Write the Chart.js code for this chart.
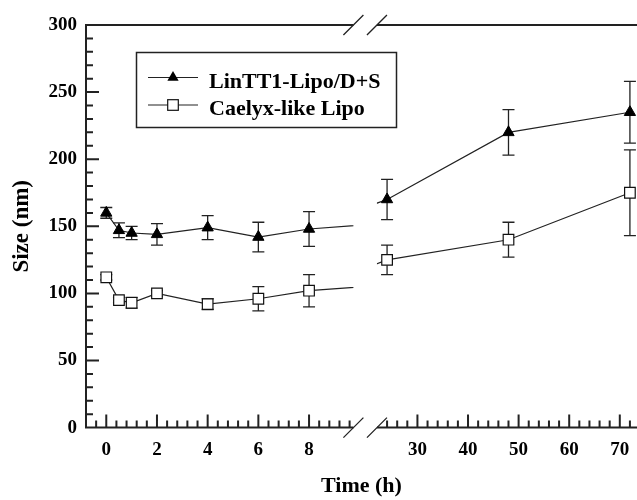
<!DOCTYPE html>
<html>
<head>
<meta charset="utf-8">
<script src="https://cdn.jsdelivr.net/npm/chart.js@4.4.1/dist/chart.umd.min.js"></script>
<style>
  html, body { margin: 0; padding: 0; background: #fff; }
  #wrap { width: 637px; height: 500px; }
</style>
</head>
<body>
<div id="wrap"><canvas id="sizeChart"></canvas></div>
<script>
// sampling times (h)
const time_h = [0, 0.5, 1, 2, 4, 6, 8, 24, 48, 72];
// LinTT1-Lipo/D+S, mean size and error (nm)
const lintt_size = [160, 147, 145, 144, 149, 142, 148, 170, 220, 235];
const lintt_err = [4, 5.5, 5, 8, 9, 11, 13, 15, 17, 23];
// Caelyx-like Lipo
const caelyx_size = [112, 95, 93, 100, 92, 96, 102, 125, 140, 175];
const caelyx_err = [2, 2, 4, 2, 4, 9, 12, 11, 13, 32];

const left_ticks = [0, 2, 4, 6, 8];
const right_ticks = [30, 40, 50, 60, 70];
const y_ticks = [0, 50, 100, 150, 200, 250, 300];

// the time axis is broken in two pieces (hours)
const LEFT = {min: -0.8, max: 10.2, end: 9.75};
const RIGHT = {min: 19.6, max: 73.4, start: 22};

Chart.defaults.font.family = '"Liberation Serif", "Times New Roman", serif';
Chart.defaults.color = '#000';

const LINE = '#222';

function pts(vals) {
    return time_h.map((t, i) => ({x: t, y: vals[i]}));
}

function seriesSets(label, vals, errs, style) {
    return ['xL', 'xR'].map(axis => Object.assign({
        label: label,
        data: pts(vals),
        errors: errs,
        xAxisID: axis,
        yAxisID: 'y',
        borderColor: LINE,
        borderWidth: 1.2,
        tension: 0,
        fill: false
    }, style));
}

const triStyle = {pointStyle: 'triangle', pointRadius: 6.5, pointBackgroundColor: '#000', pointBorderColor: '#000', pointBorderWidth: 1};
const sqStyle = {pointStyle: 'rect', pointRadius: 7.5, pointBackgroundColor: '#fff', pointBorderColor: '#111', pointBorderWidth: 1.2};

// clipping to each axis piece, error bars, frame with break marks, legend box
const brokenAxis = {
    id: 'brokenAxis',
    beforeDatasetDraw(chart, args) {
        const ds = chart.data.datasets[args.index];
        const a = chart.chartArea;
        const ctx = chart.ctx;
        const xs = chart.scales[ds.xAxisID];
        const ys = chart.scales.y;
        let x0, x1;
        if (ds.xAxisID === 'xL') {
            x0 = a.left - 10;
            x1 = chart.scales.xL.getPixelForValue(LEFT.end);
        } else {
            x0 = chart.scales.xR.getPixelForValue(RIGHT.start);
            x1 = a.right + 10;
        }
        ctx.save();
        ctx.beginPath();
        ctx.rect(x0, a.top - 10, x1 - x0, a.bottom - a.top + 20);
        ctx.clip();
        ctx.strokeStyle = LINE;
        ctx.lineWidth = 1.3;
        ds.data.forEach((p, i) => {
            const e = ds.errors[i];
            const x = xs.getPixelForValue(p.x);
            const yt = ys.getPixelForValue(p.y + e);
            const yb = ys.getPixelForValue(p.y - e);
            ctx.beginPath();
            ctx.moveTo(x, yt); ctx.lineTo(x, yb);
            ctx.moveTo(x - 6, yt); ctx.lineTo(x + 6, yt);
            ctx.moveTo(x - 6, yb); ctx.lineTo(x + 6, yb);
            ctx.stroke();
        });
    },
    afterDatasetDraw(chart) {
        chart.ctx.restore();
    },
    afterDraw(chart) {
        const {ctx, chartArea: a, scales: {xL, xR, y}} = chart;
        const bx = xL.getPixelForValue(LEFT.end);
        const rx = xR.getPixelForValue(RIGHT.start);
        ctx.save();
        ctx.strokeStyle = LINE;
        ctx.lineWidth = 2;
        ctx.beginPath();
        ctx.moveTo(a.left, a.top - 1); ctx.lineTo(a.left, a.bottom + 1);
        for (const yy of [a.top, a.bottom]) {
            ctx.moveTo(a.left, yy); ctx.lineTo(bx, yy);
            ctx.moveTo(rx, yy); ctx.lineTo(a.right, yy);
        }
        // y ticks, minor every 10
        for (let v = 10; v < 300; v += 10) {
            const py = y.getPixelForValue(v);
            ctx.moveTo(a.left, py);
            ctx.lineTo(a.left + (v % 50 === 0 ? 13 : 7), py);
        }
        // left piece ticks, minor every 0.4 h
        for (let k = -1; k * 0.4 <= LEFT.end; k++) {
            const px = xL.getPixelForValue(k * 0.4);
            ctx.moveTo(px, a.bottom);
            ctx.lineTo(px, a.bottom - (k % 5 === 0 ? 13 : 7));
        }
        // right piece ticks, minor every 2 h
        for (let v = 24; v <= RIGHT.max; v += 2) {
            const px = xR.getPixelForValue(v);
            ctx.moveTo(px, a.bottom);
            ctx.lineTo(px, a.bottom - (v % 10 === 0 ? 13 : 7));
        }
        ctx.stroke();

        // break marks
        ctx.lineWidth = 1.3;
        ctx.beginPath();
        for (const xx of [bx, rx]) {
            for (const yy of [a.top, a.bottom]) {
                ctx.moveTo(xx - 10, yy + 10);
                ctx.lineTo(xx + 10, yy - 10);
            }
        }
        ctx.stroke();

        // legend
        ctx.lineWidth = 1.5;
        ctx.strokeRect(136.5, 52.5, 260, 75);
        const rows = [
            {text: 'LinTT1-Lipo/D+S', y: 77.5, base: 88, tri: true},
            {text: 'Caelyx-like Lipo', y: 105, base: 115, tri: false}
        ];
        ctx.font = 'bold 22px "Liberation Serif", serif';
        ctx.textBaseline = 'alphabetic';
        ctx.textAlign = 'left';
        rows.forEach(r => {
            ctx.strokeStyle = LINE;
            ctx.lineWidth = 1.2;
            ctx.beginPath();
            ctx.moveTo(148, r.y); ctx.lineTo(198, r.y);
            ctx.stroke();
            const cx = 173;
            if (r.tri) {
                const rad = 6.5;
                ctx.fillStyle = '#000';
                ctx.beginPath();
                ctx.moveTo(cx, r.y - rad);
                ctx.lineTo(cx + rad * 0.866, r.y + rad / 2);
                ctx.lineTo(cx - rad * 0.866, r.y + rad / 2);
                ctx.closePath();
                ctx.fill();
            } else {
                const s = 5.3;
                ctx.fillStyle = '#fff';
                ctx.fillRect(cx - s, r.y - s, 2 * s, 2 * s);
                ctx.strokeStyle = '#111';
                ctx.strokeRect(cx - s, r.y - s, 2 * s, 2 * s);
            }
            ctx.fillStyle = '#000';
            ctx.fillText(r.text, 209, r.base);
        });
        ctx.restore();
    }
};

const tickFont = {size: 19, weight: 'bold'};

function fitX(s) {
    s.height = 44;
    s.paddingLeft = 0;
    s.paddingRight = 0;
}

const ctx = document.getElementById('sizeChart').getContext('2d');
const sizeChart = new Chart(ctx, {
    type: 'line',
    data: {
        datasets: [
            ...seriesSets('LinTT1-Lipo/D+S', lintt_size, lintt_err, triStyle),
            ...seriesSets('Caelyx-like Lipo', caelyx_size, caelyx_err, sqStyle)
        ]
    },
    options: {
        responsive: true,
        maintainAspectRatio: false,
        animation: false,
        layout: {autoPadding: false, padding: {top: 25, right: 0, left: 0, bottom: 0}},
        plugins: {
            legend: {display: false},
            tooltip: {enabled: false},
            title: {
                display: true,
                text: 'Time (h)',
                position: 'bottom',
                fullSize: false,
                color: '#000',
                font: {size: 22, weight: 'bold'},
                padding: {top: 2, bottom: 0}
            }
        },
        scales: {
            xL: {
                type: 'linear',
                position: 'bottom',
                stack: 'time',
                stackWeight: (LEFT.max - LEFT.min) * 25.34,
                min: LEFT.min,
                max: LEFT.max,
                afterBuildTicks: s => { s.ticks = left_ticks.map(v => ({value: v})); },
                afterFit: fitX,
                grid: {display: false, drawTicks: false},
                border: {display: false},
                ticks: {padding: 11, font: tickFont, color: '#000', maxRotation: 0, autoSkip: false}
            },
            xR: {
                type: 'linear',
                position: 'bottom',
                stack: 'time',
                stackWeight: (RIGHT.max - RIGHT.min) * 5.058,
                min: RIGHT.min,
                max: RIGHT.max,
                afterBuildTicks: s => { s.ticks = right_ticks.map(v => ({value: v})); },
                afterFit: fitX,
                grid: {display: false, drawTicks: false},
                border: {display: false},
                ticks: {padding: 11, font: tickFont, color: '#000', maxRotation: 0, autoSkip: false}
            },
            y: {
                type: 'linear',
                min: 0,
                max: 300,
                afterBuildTicks: s => { s.ticks = y_ticks.map(v => ({value: v})); },
                afterFit: s => { s.width = 86; s.paddingTop = 0; s.paddingBottom = 0; },
                grid: {display: false, drawTicks: false},
                border: {display: false},
                ticks: {padding: 9, font: tickFont, color: '#000'},
                title: {
                    display: true,
                    text: 'Size (nm)',
                    color: '#000',
                    font: {size: 23, weight: 'bold'},
                    padding: {top: 8, bottom: 0}
                }
            }
        }
    },
    plugins: [brokenAxis]
});
</script>
</body>
</html>
